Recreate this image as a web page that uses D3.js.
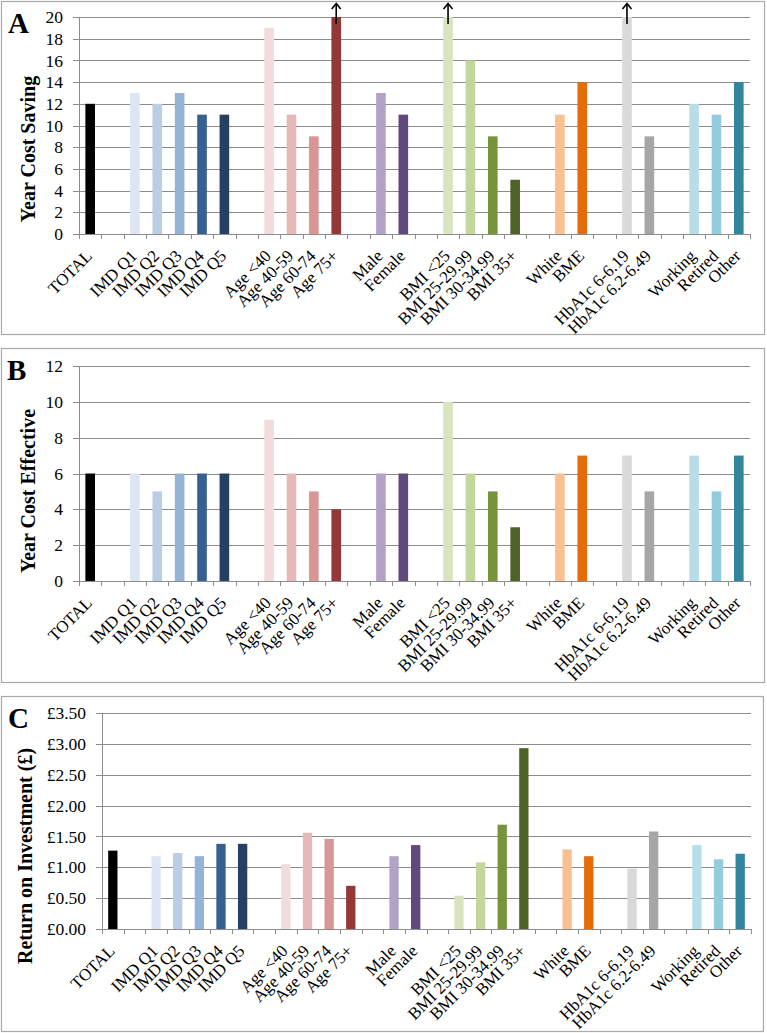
<!DOCTYPE html>
<html>
<head>
<meta charset="utf-8">
<script src="https://cdn.jsdelivr.net/npm/d3@7"></script>
<style>
  html, body { margin: 0; padding: 0; background: #fff; }
  svg { display: block; font-family: "Liberation Serif", "Times New Roman", serif; }
</style>
</head>
<body>
<svg id="chart" width="767" height="1033"></svg>
<script>
// empty strings are the spacer slots between the groups
const categories = [
  'TOTAL', '',
  'IMD Q1', 'IMD Q2', 'IMD Q3', 'IMD Q4', 'IMD Q5', '',
  'Age <40', 'Age 40-59', 'Age 60-74', 'Age 75+', '',
  'Male', 'Female', '',
  'BMI <25', 'BMI 25-29.99', 'BMI 30-34.99', 'BMI 35+', '',
  'White', 'BME', '',
  'HbA1c 6-6.19', 'HbA1c 6.2-6.49', '',
  'Working', 'Retired', 'Other'
];

const barColors = [
  '#000000', null,
  '#DCE6F2', '#B9CDE5', '#95B3D7', '#376092', '#254061', null,
  '#F2DCDB', '#E6B9B8', '#D99694', '#953735', null,
  '#B3A2C7', '#604A7B', null,
  '#D7E4BD', '#C3D69B', '#77933C', '#4F6228', null,
  '#FAC090', '#E46C0A', null,
  '#D9D9D9', '#A6A6A6', null,
  '#B7DEE8', '#93CDDD', '#31859C'
];

const yearCostSaving = [
  12, null,
  13, 12, 13, 11, 11, null,
  19, 11, 9, 20, null,
  13, 11, null,
  20, 16, 9, 5, null,
  11, 14, null,
  20, 9, null,
  12, 11, 14
];
// these bars run past the top of the axis (drawn with an arrow)
const savingOffScale = ['Age 75+', 'BMI <25', 'HbA1c 6-6.19'];

const yearCostEffective = [
  6, null,
  6, 5, 6, 6, 6, null,
  9, 6, 5, 4, null,
  6, 6, null,
  10, 6, 5, 3, null,
  6, 7, null,
  7, 5, null,
  7, 5, 7
];

const returnOnInvestment = [
  1.27, null,
  1.18, 1.23, 1.18, 1.38, 1.38, null,
  1.05, 1.56, 1.46, 0.70, null,
  1.18, 1.36, null,
  0.54, 1.08, 1.69, 2.93, null,
  1.29, 1.18, null,
  0.98, 1.58, null,
  1.36, 1.13, 1.22
];

const svg = d3.select('#chart');
const GRID = '#8c8c8c';

function drawPanel(cfg) {
  const g = svg.append('g');

  g.append('rect')
    .attr('x', cfg.box[0] + 0.5)
    .attr('y', cfg.box[1] + 0.5)
    .attr('width', cfg.box[2] - cfg.box[0])
    .attr('height', cfg.box[3] - cfg.box[1])
    .attr('fill', '#fff')
    .attr('stroke', '#a9a9a9')
    .attr('stroke-width', 1.2);

  const x = d3.scaleBand()
    .domain(d3.range(categories.length))
    .range([cfg.left, cfg.right])
    .paddingInner(0.57)
    .paddingOuter(0.285);

  const y = d3.scaleLinear().domain(cfg.domain).range([cfg.bottom, cfg.top]);
  const ticks = d3.range(cfg.domain[0], cfg.domain[1] + cfg.step / 2, cfg.step);

  // gridlines with outside tick marks
  g.append('g')
    .selectAll('line')
    .data(ticks)
    .join('line')
    .attr('x1', cfg.left - 6)
    .attr('x2', cfg.right)
    .attr('y1', (d) => Math.round(y(d)) + 0.5)
    .attr('y2', (d) => Math.round(y(d)) + 0.5)
    .attr('stroke', GRID)
    .attr('stroke-width', 1);

  g.append('g')
    .selectAll('text')
    .data(ticks)
    .join('text')
    .attr('x', cfg.left - 16)
    .attr('y', (d) => y(d))
    .attr('dy', '0.35em')
    .attr('text-anchor', 'end')
    .attr('font-size', 17.5)
    .attr('fill', '#000')
    .text(cfg.format);

  // y axis line
  g.append('line')
    .attr('x1', cfg.left + 0.5)
    .attr('x2', cfg.left + 0.5)
    .attr('y1', y(cfg.domain[1]))
    .attr('y2', y(cfg.domain[0]))
    .attr('stroke', GRID);

  // category tick marks at slot boundaries
  const boundaries = d3.range(categories.length + 1).map((i) => cfg.left + i * x.step());
  g.append('g')
    .selectAll('line')
    .data(boundaries)
    .join('line')
    .attr('x1', (d) => Math.round(d) + 0.5)
    .attr('x2', (d) => Math.round(d) + 0.5)
    .attr('y1', y(0))
    .attr('y2', y(0) + 5)
    .attr('stroke', GRID);

  const rows = categories.map((name, i) => ({ i, name, value: cfg.values[i], color: barColors[i] }));

  g.append('g')
    .selectAll('rect')
    .data(rows.filter((d) => d.value != null))
    .join('rect')
    .attr('x', (d) => x(d.i))
    .attr('width', x.bandwidth())
    .attr('y', (d) => y(d.value))
    .attr('height', (d) => y(0) - y(d.value))
    .attr('fill', (d) => d.color);

  // category labels, rotated
  g.append('g')
    .selectAll('text')
    .data(rows.filter((d) => d.name))
    .join('text')
    .attr('transform', (d) => `translate(${x(d.i) + x.bandwidth() / 2 + 3}, ${y(0) + 23}) rotate(-45)`)
    .attr('text-anchor', 'end')
    .attr('font-size', 17)
    .attr('fill', '#000')
    .text((d) => d.name);

  // arrows on bars that exceed the axis
  const over = rows.filter((d) => (cfg.overflow || []).includes(d.name));
  const arrows = g.append('g').selectAll('g').data(over).join('g')
    .attr('transform', (d) => `translate(${x(d.i) + x.bandwidth() / 2}, ${y(cfg.domain[1])})`);
  arrows.append('line')
    .attr('y1', 7)
    .attr('y2', -13)
    .attr('stroke', '#000')
    .attr('stroke-width', 1.6);
  arrows.append('path')
    .attr('d', 'M-4.5,-8 L0,-13.5 L4.5,-8')
    .attr('fill', 'none')
    .attr('stroke', '#000')
    .attr('stroke-width', 1.6);

  g.append('text')
    .attr('x', cfg.letter[0])
    .attr('y', cfg.letter[1])
    .attr('font-size', 29)
    .attr('font-weight', 'bold')
    .text(cfg.letter[2]);

  g.append('text')
    .attr('transform', `translate(${cfg.titlePos[0]}, ${cfg.titlePos[1]}) rotate(-90)`)
    .attr('text-anchor', 'middle')
    .attr('dy', '0.35em')
    .attr('font-size', 20)
    .attr('font-weight', 'bold')
    .text(cfg.title);
}

drawPanel({
  box: [1, 1, 764, 334],
  left: 79, right: 750, top: 17, bottom: 234,
  domain: [0, 20], step: 2,
  format: (d) => d3.format('d')(d),
  values: yearCostSaving,
  overflow: savingOffScale,
  letter: [8, 33, 'A'],
  title: 'Year Cost Saving',
  titlePos: [28, 149]
});

drawPanel({
  box: [1, 348, 764, 682],
  left: 79, right: 750, top: 366, bottom: 581,
  domain: [0, 12], step: 2,
  format: (d) => d3.format('d')(d),
  values: yearCostEffective,
  letter: [7, 380, 'B'],
  title: 'Year Cost Effective',
  titlePos: [28, 491]
});

drawPanel({
  box: [1, 696, 763, 1031],
  left: 102, right: 751, top: 713, bottom: 929,
  domain: [0, 3.5], step: 0.5,
  format: (d) => '£' + d3.format('.2f')(d),
  values: returnOnInvestment,
  letter: [8, 728, 'C'],
  title: 'Return on Investment (£)',
  titlePos: [25, 856]
});
</script>
</body>
</html>
